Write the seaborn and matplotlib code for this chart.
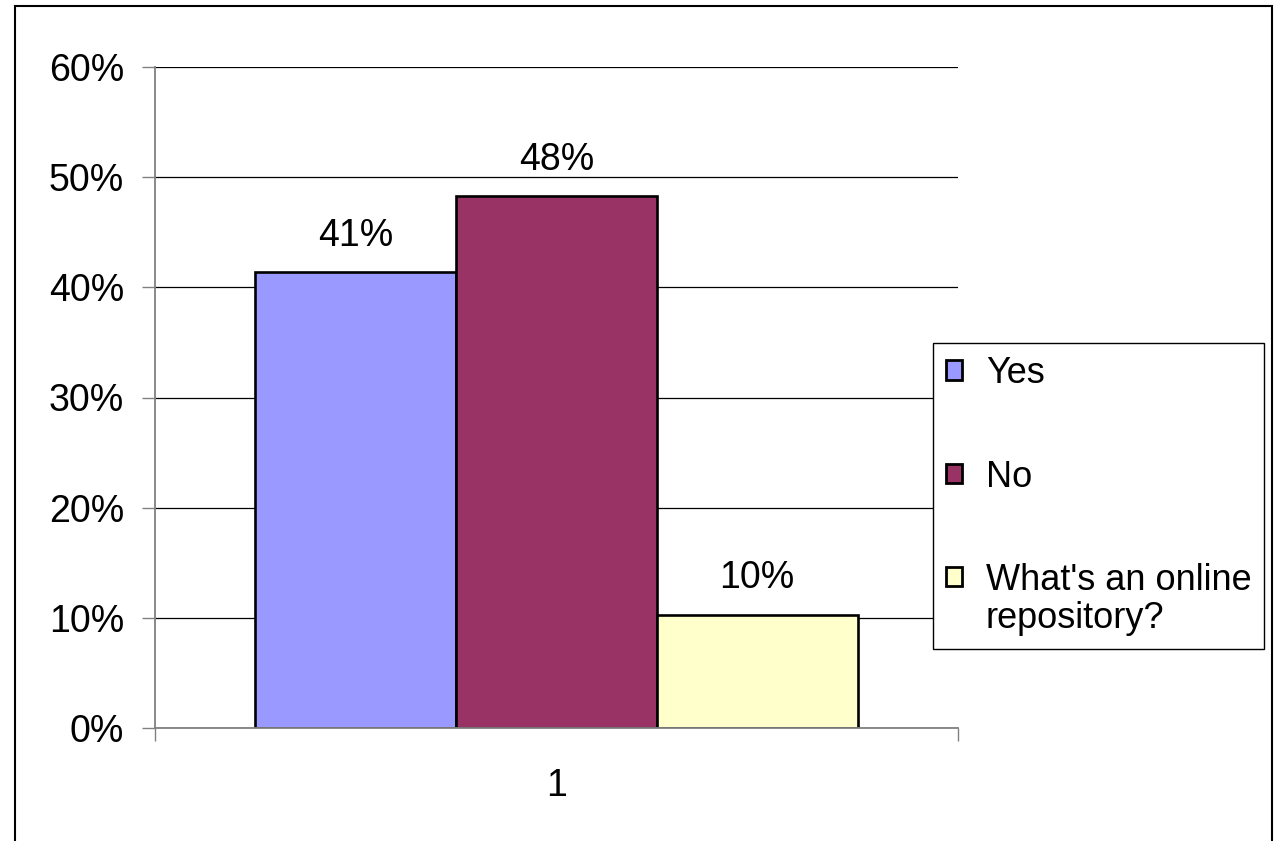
import matplotlib
matplotlib.use("Agg")
import matplotlib.pyplot as plt
import seaborn as sns
import pandas as pd
from matplotlib.patches import Patch, Rectangle
from matplotlib.ticker import FixedLocator
from matplotlib.legend_handler import HandlerPatch

categories = ["1"]
series = ["Yes", "No", "What's an online\nrepository?"]
values = [0.414, 0.483, 0.103]
colors = ["#9999FF", "#993366", "#FFFFCC"]
yticks = [0.0, 0.1, 0.2, 0.3, 0.4, 0.5, 0.6]

sns.set_theme(style="white")
plt.rcParams["font.family"] = ["Liberation Sans", "DejaVu Sans"]
plt.rcParams["text.color"] = "black"
plt.rcParams["xtick.color"] = "black"
plt.rcParams["ytick.color"] = "black"
plt.rcParams["xtick.labelcolor"] = "black"
plt.rcParams["ytick.labelcolor"] = "black"

df = pd.DataFrame({"cat": categories * len(series), "series": series, "value": values})

fig = plt.figure(figsize=(12.74, 8.41), dpi=100)
fig.patch.set_facecolor("white")
ax = fig.add_axes([155/1274, 1 - 728/841, (958-155)/1274, (728-67)/841])

sns.barplot(data=df, x="cat", y="value", hue="series", hue_order=series,
            palette=colors, edgecolor="black", linewidth=1.9, width=0.75,
            saturation=1, dodge=True, ax=ax, legend=False)

ax.set_xlim(-0.5, 0.5)
ax.set_ylim(0, 0.6)
ax.set_yticks(yticks)
ax.set_yticklabels([f"{int(round(t*100))}%" for t in yticks])
ax.set_xlabel("")
ax.set_ylabel("")

fs = 27
ax.yaxis.grid(True, color="black", linewidth=0.9)
ax.set_axisbelow(True)
for s in ["top", "right"]:
    ax.spines[s].set_visible(False)
for s in ["left", "bottom"]:
    ax.spines[s].set_color("#808080")
    ax.spines[s].set_linewidth(1.3)

ax.tick_params(axis="y", which="major", length=9.4, width=1.0, color="#808080",
               labelsize=fs, pad=13, left=True, direction="out", labelcolor="black")
ax.tick_params(axis="x", which="major", length=0, labelsize=fs, pad=29, labelcolor="black")
ax.xaxis.set_minor_locator(FixedLocator([-0.5, 0.5]))
ax.tick_params(axis="x", which="minor", length=9.4, width=1.0, color="#808080",
               bottom=True, direction="out")

for cont in ax.containers:
    ax.bar_label(cont, labels=[f"{v*100:.0f}%" for v in cont.datavalues],
                 padding=13, fontsize=fs, color="black")

lfs = 26
line_sp = 1.12


def top_aligned_patch(legend, orig_handle, xdescent, ydescent, width, height, fontsize):
    # shift the square up to sit beside the first text line of a two-line label
    return Rectangle((-xdescent, -ydescent + 0.5 * line_sp * fontsize * 1.2), width, height)


handles = [Patch(facecolor=c, edgecolor="black", linewidth=2.0) for c in colors]
handler_map = {handles[2]: HandlerPatch(patch_func=top_aligned_patch)}
leg = fig.legend(handles, series, loc="upper left",
                 bbox_to_anchor=(933/1274, 1 - 343/841), bbox_transform=fig.transFigure,
                 fontsize=lfs, frameon=True, fancybox=False, shadow=False,
                 borderpad=0.36, labelspacing=1.9, handlelength=0.45, handleheight=0.45,
                 handletextpad=0.65, borderaxespad=0, handler_map=handler_map)
leg.get_frame().set_edgecolor("black")
leg.get_frame().set_linewidth(1.0)
leg.get_frame().set_alpha(1)
for t in leg.get_texts():
    t.set_color("black")
    t.set_linespacing(line_sp)

border = Rectangle((15/1274, -0.05), (1272-15)/1274, 1 - 6/841 + 0.05,
                   transform=fig.transFigure, fill=False, edgecolor="black",
                   linewidth=1.5, clip_on=False)
fig.patches.append(border)

fig.savefig("out.png", dpi=100, facecolor="white")
